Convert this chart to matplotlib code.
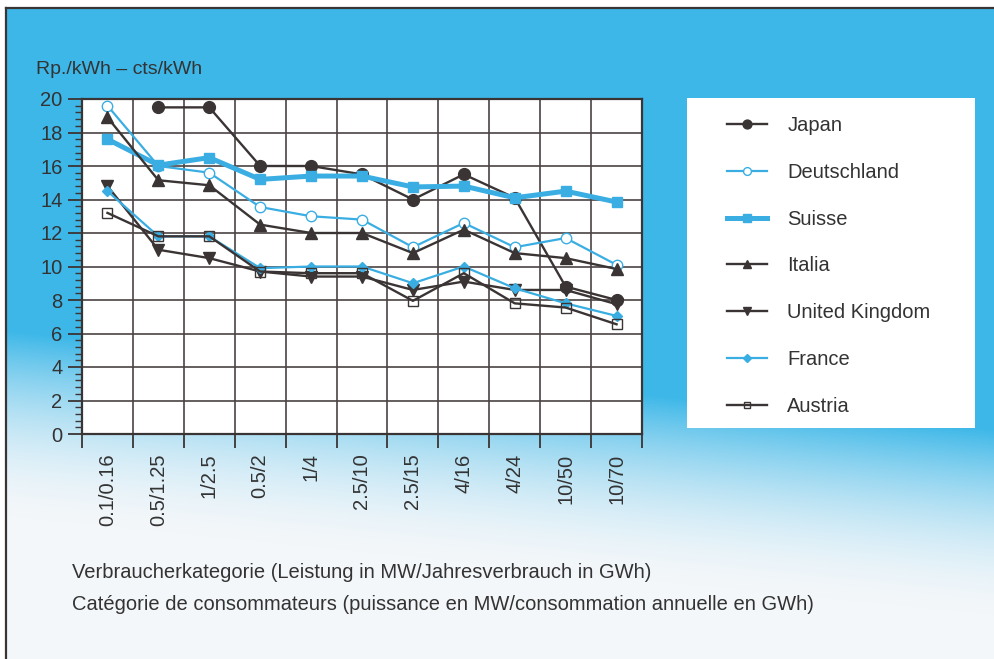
import numpy as np
import matplotlib
matplotlib.use("Agg")
import matplotlib.pyplot as plt
from matplotlib.patches import Rectangle

plt.rcParams['font.family'] = ['Liberation Sans', 'DejaVu Sans']

categories = ['0.1/0.16', '0.5/1.25', '1/2.5', '0.5/2', '1/4', '2.5/10',
              '2.5/15', '4/16', '4/24', '10/50', '10/70']

japan = [np.nan, 19.5, 19.5, 16.0, 16.0, 15.5, 14.0, 15.5, 14.1, 8.8, 8.0]
deutschland = [19.6, 16.0, 15.6, 13.55, 13.0, 12.8, 11.15, 12.6, 11.15, 11.7, 10.1]
suisse = [17.6, 16.05, 16.5, 15.2, 15.4, 15.4, 14.75, 14.8, 14.1, 14.5, 13.85]
italia = [18.9, 15.15, 14.85, 12.5, 12.0, 12.0, 10.8, 12.2, 10.8, 10.5, 9.85]
uk = [14.8, 11.0, 10.5, 9.7, 9.4, 9.4, 8.6, 9.1, 8.6, 8.6, 7.75]
france = [14.5, 11.8, 11.8, 9.9, 10.0, 10.0, 9.0, 10.0, 8.7, 7.8, 7.05]
austria = [13.2, 11.8, 11.8, 9.7, 9.6, 9.6, 7.95, 9.6, 7.8, 7.55, 6.55]

dark = '#3b3434'
blue = '#3aaee2'
txt = '#333333'
W, H = 994, 659

fig = plt.figure(figsize=(W / 100, H / 100), dpi=100)

# background gradient
bg = fig.add_axes([0, 0, 1, 1], zorder=-1)
yy, xx = np.mgrid[0:H, 0:W]
t = np.clip((yy - (330 + 0.1 * xx)) / 200.0, 0, 1)
t = t * (2 - t)
top = np.array([0.24, 0.72, 0.91])
bot = np.array([0.96, 0.97, 0.98])
img = top[None, None, :] * (1 - t[..., None]) + bot[None, None, :] * t[..., None]
img[:8, :, :] = 1.0
img[:, :6, :] = 1.0
bg.imshow(img, aspect='auto', extent=[0, 1, 0, 1], origin='upper')
bg.plot([6 / W, 1], [1 - 8 / H, 1 - 8 / H], color=dark, lw=1.6)
bg.plot([6 / W, 6 / W], [0, 1 - 8 / H], color=dark, lw=1.6)
bg.add_patch(Rectangle((687 / W, 1 - 428 / H), (975 - 687) / W, (428 - 98) / H,
                       facecolor='white', edgecolor='none', zorder=3))
bg.set_xlim(0, 1)
bg.set_ylim(0, 1)
bg.axis('off')

ax = fig.add_axes([82 / W, 1 - 434 / H, (642 - 82) / W, (434 - 99) / H])
ax.set_facecolor('white')
x = np.arange(len(categories))

ax.plot(x, japan, color=dark, lw=1.7, marker='o', ms=8.5, label='Japan')
ax.plot(x, deutschland, color=blue, lw=1.6, marker='o', ms=7.5, mfc='white', mec=blue, mew=1.0,
        label='Deutschland')
ax.plot(x, suisse, color=blue, lw=3.6, marker='s', ms=7.5, label='Suisse')
ax.plot(x, italia, color=dark, lw=1.7, marker='^', ms=8, label='Italia')
ax.plot(x, uk, color=dark, lw=1.7, marker='v', ms=8, label='United Kingdom')
ax.plot(x, france, color=blue, lw=1.6, marker='D', ms=5, label='France')
ax.plot(x, austria, color=dark, lw=1.7, marker='s', ms=6.5, mfc='none', mec=dark, mew=1.0,
        label='Austria')

ax.set_xlim(-0.5, 10.5)
ax.set_ylim(0, 20)
ax.set_xticks(x)
ax.set_xticklabels(categories, rotation=90, fontsize=14.5, color=txt)
ax.set_xticks(np.arange(-0.5, 11, 1), minor=True)
ax.tick_params(axis='x', which='major', length=0, pad=14)
ax.tick_params(axis='x', which='minor', length=10, width=1.3, color=dark, direction='out')
ax.set_yticks(np.arange(0, 21, 2))
ax.set_yticks(np.arange(0, 20.01, 0.4), minor=True)
ax.tick_params(axis='y', which='major', length=10, width=1.3, color=dark, pad=4,
               labelsize=14.5, labelcolor=txt)
ax.tick_params(axis='y', which='minor', length=5, width=1.0, color=dark)
ax.grid(True, which='major', axis='y', color='#4b4343', lw=1.2)
ax.grid(True, which='minor', axis='x', color='#4b4343', lw=1.2)
ax.set_axisbelow(True)
for s in ax.spines.values():
    s.set_color(dark)
    s.set_linewidth(1.6)

leg = ax.legend(loc='upper left', bbox_to_anchor=(727 / W, 1 - 116 / H),
                bbox_transform=fig.transFigure, frameon=False, borderpad=0,
                borderaxespad=0, fontsize=14.5, labelspacing=1.38, handlelength=2.0,
                handletextpad=1.0, markerscale=0.75)
for tx in leg.get_texts():
    tx.set_color(txt)

fig.text(36 / W, 1 - 70 / H, 'Rp./kWh – cts/kWh', fontsize=14, color=txt, va='center')
fig.text(72 / W, 1 - 573 / H, 'Verbraucherkategorie (Leistung in MW/Jahresverbrauch in GWh)',
         fontsize=14.5, color=txt, va='center')
fig.text(72 / W, 1 - 605 / H,
         'Catégorie de consommateurs (puissance en MW/consommation annuelle en GWh)',
         fontsize=14.5, color=txt, va='center')

fig.savefig('out.png', dpi=100)
